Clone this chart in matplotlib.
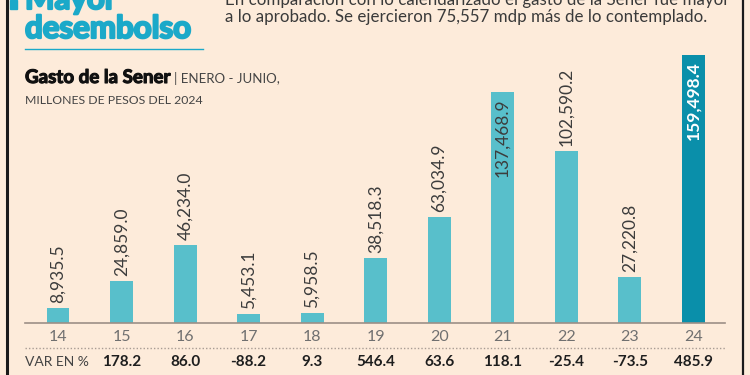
import matplotlib
matplotlib.use("Agg")
import matplotlib.pyplot as plt
from matplotlib.lines import Line2D
from matplotlib.patches import Rectangle
import matplotlib.transforms as mtransforms
import matplotlib.patheffects as pe

years = ["14", "15", "16", "17", "18", "19", "20", "21", "22", "23", "24"]
gasto = [8935.5, 24859.0, 46234.0, 5453.1, 5958.5, 38518.3, 63034.9, 137468.9, 102590.2, 27220.8, 159498.4]
labels = ["8,935.5", "24,859.0", "46,234.0", "5,453.1", "5,958.5", "38,518.3", "63,034.9", "137,468.9", "102,590.2", "27,220.8", "159,498.4"]
var_pct = ["", "178.2", "86.0", "-88.2", "9.3", "546.4", "63.6", "118.1", "-25.4", "-73.5", "485.9"]

BG = "#FDEBDA"
BAR = "#58BFCB"
BAR_LAST = "#0A8FAA"
CYAN = "#1BA9C9"
GREY = "#3C3C3C"

plt.rcParams['font.family'] = ['Lato', 'DejaVu Sans']

W, H = 750, 375
fig = plt.figure(figsize=(7.5, 3.75), dpi=100, facecolor=BG)

def fx(px):
    return px / W

def fy(py):
    return 1 - py / H

ax = fig.add_axes([fx(25), fy(323), fx(725) - fx(25), (323 - 40) / H])
ax.set_facecolor(BG)
xs = list(range(len(years)))
ax.set_xlim(-0.52, 10.5)
ax.set_ylim(0, 283 / 0.001678)
colors = [BAR] * (len(years) - 1) + [BAR_LAST]
ax.bar(xs, gasto, width=0.36, color=colors, zorder=2)
for s in ["top", "right", "left"]:
    ax.spines[s].set_visible(False)
ax.spines["bottom"].set_color("#9C8F86")
ax.spines["bottom"].set_linewidth(1.2)
ax.set_yticks([])
ax.set_xticks(xs)
ax.set_xticklabels(years, fontsize=11.5, color="#707070", fontweight="normal")
ax.tick_params(axis="x", length=0, pad=5)

offset = mtransforms.offset_copy(ax.transData, fig=fig, x=0, y=5, units="dots")
t_in = mtransforms.offset_copy(ax.transData, fig=fig, x=0, y=-6, units="dots")
for i, (v, lab) in enumerate(zip(gasto, labels)):
    if i == len(gasto) - 1:
        ax.text(i, v, lab, rotation=90, ha="center", va="top", fontsize=12.5,
                color="white", fontweight="bold", transform=t_in, zorder=3)
    elif i == 7:
        ax.text(i, v, lab, rotation=90, ha="center", va="top", fontsize=12.5,
                color=GREY, fontweight="normal", transform=t_in, zorder=3)
    else:
        ax.text(i, v, lab, rotation=90, ha="center", va="bottom", fontsize=12.5,
                color=GREY, fontweight="normal", transform=offset, zorder=3)

fig.add_artist(Line2D([fx(25), fx(725)], [fy(348), fy(348)], color="#A89C94",
                      linestyle=(0, (1, 1.5)), linewidth=1))

blend = mtransforms.blended_transform_factory(ax.transData, fig.transFigure)
fig.text(fx(25), fy(362), "VAR EN %", fontsize=10, color="#444444", va="center", ha="left",
         fontweight="normal")
for i, v in enumerate(var_pct):
    if v:
        ax.text(i, fy(362), v, transform=blend, ha="center", va="center",
                fontsize=11, fontweight="bold", color="#1E1E1E")

stroke = [pe.withStroke(linewidth=1.6, foreground=CYAN)]
fig.text(fx(25), fy(9), "Mayor", fontsize=22.5, fontweight="bold", color=CYAN, ha="left",
         va="baseline", path_effects=stroke)
fig.text(fx(25), fy(38), "desembolso", fontsize=22.5, fontweight="bold", color=CYAN, ha="left",
         va="baseline", path_effects=stroke)
fig.add_artist(Line2D([fx(25), fx(203)], [fy(49), fy(49)], color=CYAN, linewidth=1))

fig.text(fx(225), fy(5), "En comparación con lo calendarizado el gasto de la Sener fue mayor",
         fontsize=12.2, color="#3A3A3A", ha="left", va="baseline", fontweight="normal")
fig.text(fx(225), fy(22), "a lo aprobado. Se ejercieron 75,557 mdp más de lo contemplado.",
         fontsize=12.2, color="#3A3A3A", ha="left", va="baseline", fontweight="normal")

t1 = fig.text(fx(25), fy(83), "Gasto de la Sener", fontsize=13.5, fontweight="bold", color="#111111",
              ha="left", va="baseline", path_effects=[pe.withStroke(linewidth=0.8, foreground="#111111")])
fig.canvas.draw()
bb = t1.get_window_extent()
fig.text(bb.x1 / W + fx(4), fy(83), "| ENERO - JUNIO,", fontsize=9.5, color="#444444",
         ha="left", va="baseline", fontweight="normal")
fig.text(fx(25), fy(104), "MILLONES DE PESOS DEL 2024", fontsize=8.8, color="#444444",
         ha="left", va="baseline", fontweight="normal")

fig.add_artist(Line2D([fx(7), fx(7)], [0, 1], color="#1A1A1A", linewidth=2.2))
fig.add_artist(Line2D([fx(743), fx(743)], [0, 1], color="#1A1A1A", linewidth=1.6))
fig.add_artist(Rectangle((fx(10), fy(9)), fx(7), 9 / H, color=CYAN, transform=fig.transFigure))

fig.savefig("out.png", dpi=100, facecolor=BG)
